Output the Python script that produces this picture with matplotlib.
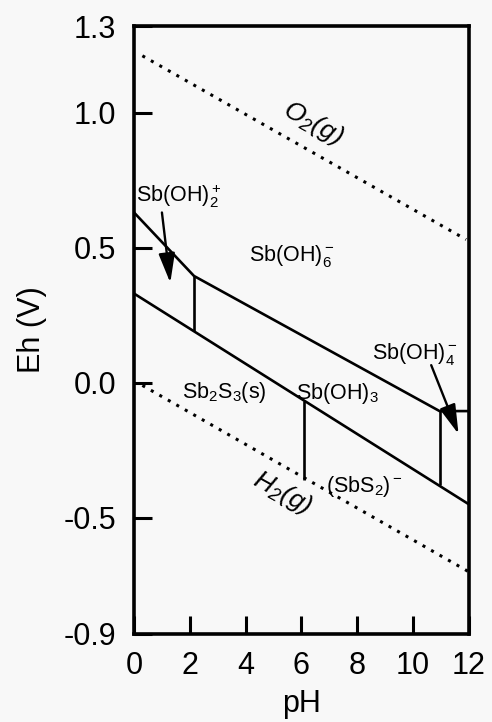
import matplotlib
matplotlib.use("Agg")
import matplotlib.pyplot as plt

plt.rcParams["font.family"] = ["Liberation Sans", "DejaVu Sans"]
plt.rcParams["mathtext.fontset"] = "custom"
plt.rcParams["mathtext.rm"] = "Liberation Sans"
plt.rcParams["mathtext.it"] = "Liberation Sans:italic"

# axis range (scan: 1.3 and -0.9 sit on the frame corners)
y_min, y_max = -0.93, 1.32
y_ticks = [y_min, -0.5, 0.0, 0.5, 1.0, y_max]
y_tick_labels = ["-0.9", "-0.5", "0.0", "0.5", "1.0", "1.3"]
x_ticks = [0, 2, 4, 6, 8, 10, 12]

# water stability lines
o2_ph = [0.3, 11.9]
o2_eh = [1.21, 0.53]
h2_ph = [0.3, 12.0]
h2_eh = [-0.01, -0.70]

# Sb(V)/Sb(III) boundary
upper_ph = [0.0, 2.15, 10.95, 12.0]
upper_eh = [0.63, 0.395, -0.105, -0.105]

# Sb(III) oxide / sulfide boundary
lower_ph = [0.0, 12.0]
lower_eh = [0.33, -0.45]

# vertical boundaries: pH, Eh top, Eh bottom
vert_ph = [2.15, 6.09, 10.95]
vert_top = [0.395, -0.066, -0.105]
vert_bot = [0.19, -0.36, -0.38]

# species labels: text, pH, Eh
labels = [
    (r"Sb(OH)$\mathregular{_2^+}$", 1.62, 0.69),
    (r"Sb(OH)$\mathregular{_6^-}$", 5.65, 0.47),
    (r"Sb(OH)$\mathregular{_4^-}$", 10.05, 0.105),
    (r"Sb$\mathregular{_2}$S$\mathregular{_3}$(s)", 3.24, -0.035),
    (r"Sb(OH)$\mathregular{_3}$", 7.3, -0.04),
    (r"(SbS$\mathregular{_2}$)$\mathregular{^-}$", 8.26, -0.385),
]

# arrows: start (pH, Eh) -> end (pH, Eh)
arrows = [
    ((1.0, 0.63), (1.3, 0.37)),
    ((10.65, 0.065), (11.63, -0.19)),
]

fig = plt.figure(figsize=(4.92, 7.22), dpi=100, facecolor="#f8f8f8")
ax = fig.add_axes([0.2724, 0.1219, 0.6806, 0.842])
ax.set_facecolor("#f8f8f8")

ax.plot(o2_ph, o2_eh, color="black", lw=2.2, linestyle=(0, (1, 2.2)))
ax.plot(h2_ph, h2_eh, color="black", lw=2.2, linestyle=(0, (1, 2.2)))

ax.plot(upper_ph, upper_eh, color="black", lw=1.9)
ax.plot(lower_ph, lower_eh, color="black", lw=1.9)
ax.vlines(vert_ph, vert_bot, vert_top, color="black", lw=1.9)

for text, x, y in labels:
    ax.text(x, y, text, fontsize=15.5, ha="center", va="center")

ax.text(6.4, 0.96, r"O$\mathregular{_2}$(g)", fontsize=19, rotation=-29,
        ha="center", va="center", style="italic")
ax.text(5.33, -0.41, r"H$\mathregular{_2}$(g)", fontsize=19, rotation=-29,
        ha="center", va="center", style="italic")

for (x0, y0), (x1, y1) in arrows:
    ax.annotate("", xy=(x1, y1), xytext=(x0, y0),
                arrowprops=dict(arrowstyle="-|>,head_length=0.9,head_width=0.25",
                                mutation_scale=20, lw=1.7, color="black",
                                shrinkA=0, shrinkB=0))

ax.set_xlim(0, 12)
ax.set_ylim(y_min, y_max)
ax.set_xticks(x_ticks)
ax.set_yticks(y_ticks)
ax.set_yticklabels(y_tick_labels)
ax.tick_params(direction="in", length=13, width=2.2, labelsize=22)
ax.tick_params(axis="y", pad=13)
ax.tick_params(axis="x", pad=12)

for s in ax.spines.values():
    s.set_linewidth(2.6)

ax.set_xlabel("pH", fontsize=22, labelpad=6)
ax.set_ylabel("Eh (V)", fontsize=22, labelpad=12)

fig.savefig("out.png", dpi=100, facecolor=fig.get_facecolor())
